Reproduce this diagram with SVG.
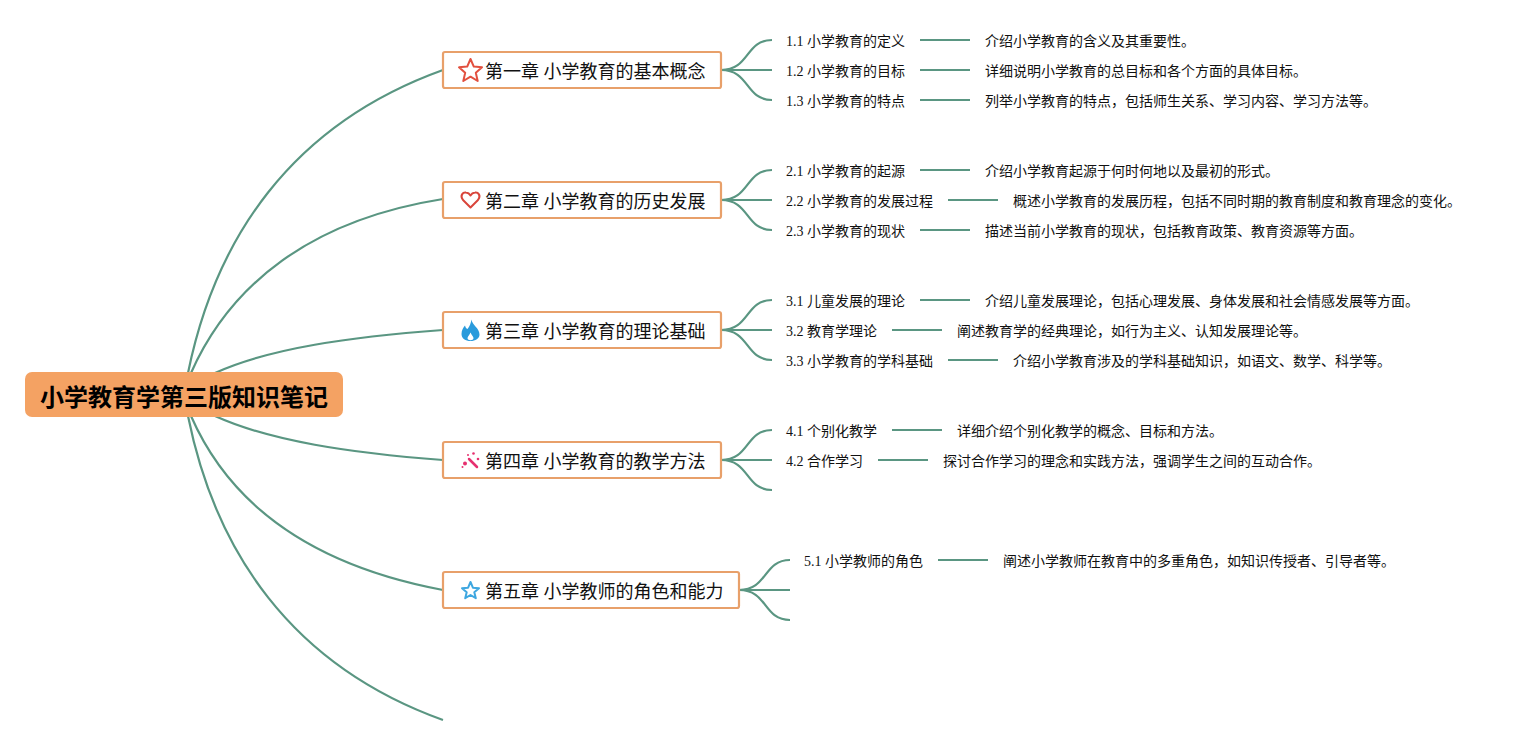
<svg xmlns="http://www.w3.org/2000/svg" width="1521" height="745" viewBox="0 0 1521 745">
<style>
text{font-family:"Liberation Serif","Noto Sans CJK SC",serif;fill:#111}
.root{font-size:24px;font-weight:700;fill:#000}
.ch{font-size:18px}
.lf{font-size:14px}
.box{fill:#fff;stroke:#E8A06A;stroke-width:2.200}
.ln{fill:none;stroke:#5A9682;stroke-width:2.200}
.ic{fill:none;stroke-width:2;stroke-linejoin:round}
</style>
<rect width="1521" height="745" fill="#fff"/>
<g id="connectors" class="ln">
<path d="M188,373C215,240 290,125 443,70"/>
<path d="M191,373C230,285 310,220 443,199"/>
<path d="M215,373C270,348 350,337 443,330"/>
<path d="M215,416C270,441 350,453 443,460"/>
<path d="M191,416C230,505 310,565 443,590"/>
<path d="M188,416C215,550 290,665 443,720"/>
<path d="M721,70C750,70 745,40 772,40M721,70H772M721,70C750,70 745,100 772,100"/>
<path d="M721,200C750,200 745,170 772,170M721,200H772M721,200C750,200 745,230 772,230"/>
<path d="M721,330C750,330 745,300 772,300M721,330H772M721,330C750,330 745,360 772,360"/>
<path d="M721,460C750,460 745,430 772,430M721,460H772M721,460C750,460 745,490 772,490"/>
<path d="M739,590C768,590 763,560 790,560M739,590H790M739,590C768,590 763,620 790,620"/>
<path d="M920,40H970M920,70H970M920,100H970M920,170H970M948,200H998M920,230H970M920,300H970M892,330H942M948,360H998M892,430H942M878,460H928M938,560H988"/>
</g>
<g id="root"><rect x="25" y="372" width="318" height="45" rx="7" fill="#F4A263"/><text class="root" x="40" y="406">小学教育学第三版知识笔记</text></g>
<g id="ch1"><rect class="box" x="443" y="52" width="278" height="36" rx="2"/><path class="ic" stroke="#E2503F" d="M470.500,59L473.800,66.600L482,67.300L475.800,72.800L477.700,81L470.500,76.700L463.300,81L465.200,72.800L459,67.300L467.200,66.600Z"/><text class="ch" x="485" y="78">第一章 小学教育的基本概念</text></g>
<g id="ch2"><rect class="box" x="443" y="182" width="278" height="36" rx="2"/><path class="ic" stroke="#D9453B" d="M470.500,207.500L463,200C459.500,195.500 463,192 466,192.500C468,192.700 469.500,193.800 470.500,195.500C471.500,193.800 473,192.700 475,192.500C478,192 481.500,195.500 478,200Z"/><text class="ch" x="485" y="208">第二章 小学教育的历史发展</text></g>
<g id="ch3"><rect class="box" x="443" y="312" width="278" height="36" rx="2"/><path fill="#2A9BDC" fill-rule="evenodd" d="M471.500,319.500C472,325 479.500,328 479.500,334.500C479.500,338.500 475.500,341 470.500,341C465.500,341 461.500,338.500 461.500,334C461.500,330 463.500,327.500 465,325.500C465.500,327.500 466,328.500 467.500,329C469.500,326.500 471,323 471.500,319.500ZM470.500,332.500C469.500,335 467.500,336.500 467.500,338.300C467.500,339.500 469,340.200 470.500,340.200C472,340.200 473.500,339.500 473.500,338.300C473.500,336.500 471.500,335 470.500,332.500Z"/><text class="ch" x="485" y="338">第三章 小学教育的理论基础</text></g>
<g id="ch4"><rect class="box" x="443" y="442" width="278" height="36" rx="2"/><path stroke="#E6306F" stroke-width="2.500" stroke-linecap="round" fill="none" d="M469,459L477,467"/><g fill="#E6306F"><circle cx="473.500" cy="453.500" r="1.300"/><circle cx="478" cy="459" r="1.300"/><circle cx="465" cy="463.500" r="2"/><circle cx="468" cy="455" r="1"/><circle cx="462.500" cy="467" r="1"/></g><text class="ch" x="485" y="468">第四章 小学教育的教学方法</text></g>
<g id="ch5"><rect class="box" x="443" y="572" width="296" height="36" rx="2"/><path class="ic" stroke="#3EA7E0" d="M470.500,582L472.900,587.700L479,588.200L474.300,592.200L475.800,598.200L470.500,595L465.200,598.200L466.700,592.200L462,588.200L468.100,587.700Z"/><text class="ch" x="485" y="598">第五章 小学教师的角色和能力</text></g>
<g id="n11"><text class="lf" x="786" y="46">1.1 小学教育的定义</text></g>
<g id="n12"><text class="lf" x="786" y="76">1.2 小学教育的目标</text></g>
<g id="n13"><text class="lf" x="786" y="106">1.3 小学教育的特点</text></g>
<g id="n21"><text class="lf" x="786" y="176">2.1 小学教育的起源</text></g>
<g id="n22"><text class="lf" x="786" y="206">2.2 小学教育的发展过程</text></g>
<g id="n23"><text class="lf" x="786" y="236">2.3 小学教育的现状</text></g>
<g id="n31"><text class="lf" x="786" y="306">3.1 儿童发展的理论</text></g>
<g id="n32"><text class="lf" x="786" y="336">3.2 教育学理论</text></g>
<g id="n33"><text class="lf" x="786" y="366">3.3 小学教育的学科基础</text></g>
<g id="n41"><text class="lf" x="786" y="436">4.1 个别化教学</text></g>
<g id="n42"><text class="lf" x="786" y="466">4.2 合作学习</text></g>
<g id="n51"><text class="lf" x="804" y="566">5.1 小学教师的角色</text></g>
<g id="d11"><text class="lf" x="985" y="46">介绍小学教育的含义及其重要性。</text></g>
<g id="d12"><text class="lf" x="985" y="76">详细说明小学教育的总目标和各个方面的具体目标。</text></g>
<g id="d13"><text class="lf" x="985" y="106">列举小学教育的特点，包括师生关系、学习内容、学习方法等。</text></g>
<g id="d21"><text class="lf" x="985" y="176">介绍小学教育起源于何时何地以及最初的形式。</text></g>
<g id="d22"><text class="lf" x="1013" y="206">概述小学教育的发展历程，包括不同时期的教育制度和教育理念的变化。</text></g>
<g id="d23"><text class="lf" x="985" y="236">描述当前小学教育的现状，包括教育政策、教育资源等方面。</text></g>
<g id="d31"><text class="lf" x="985" y="306">介绍儿童发展理论，包括心理发展、身体发展和社会情感发展等方面。</text></g>
<g id="d32"><text class="lf" x="957" y="336">阐述教育学的经典理论，如行为主义、认知发展理论等。</text></g>
<g id="d33"><text class="lf" x="1013" y="366">介绍小学教育涉及的学科基础知识，如语文、数学、科学等。</text></g>
<g id="d41"><text class="lf" x="957" y="436">详细介绍个别化教学的概念、目标和方法。</text></g>
<g id="d42"><text class="lf" x="943" y="466">探讨合作学习的理念和实践方法，强调学生之间的互动合作。</text></g>
<g id="d51"><text class="lf" x="1003" y="566">阐述小学教师在教育中的多重角色，如知识传授者、引导者等。</text></g>
</svg>
